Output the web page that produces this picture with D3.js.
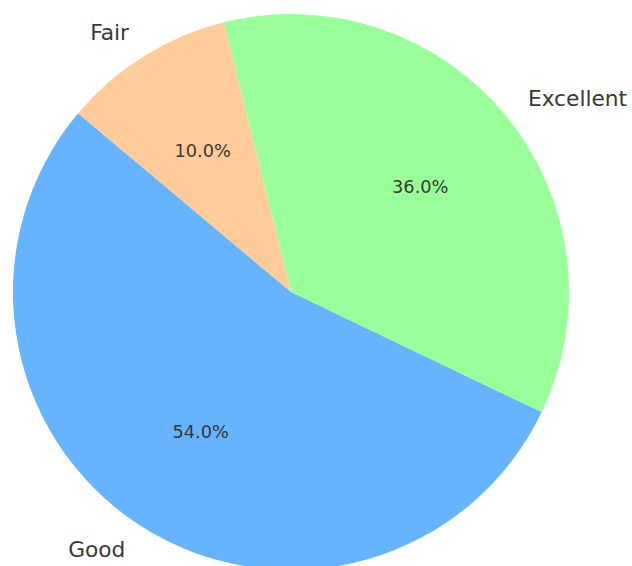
<!DOCTYPE html>
<html>
<head>
<meta charset="utf-8">
<script src="https://cdn.jsdelivr.net/npm/d3@7"></script>
<style>
  body { margin: 0; background: #fff; }
  text { font-family: "DejaVu Sans", sans-serif; fill: #383838; }
</style>
</head>
<body>
<div id="chart"></div>
<script>
// Data (in drawing order, counterclockwise like matplotlib)
var categories = ["Good", "Excellent", "Fair"];
var values = [54, 36, 10];
var colors = ["#66b3ff", "#99ff99", "#ffcc99"];

var w = 632, h = 566;
var cx = 291, cy = 292, r = 278;

var svg = d3.select("#chart").append("svg")
    .attr("width", w)
    .attr("height", h);

var g = svg.append("g").attr("transform", "translate(" + cx + "," + cy + ")");

// matplotlib startangle=140 (ccw from east) -> d3 angle -50deg, going counterclockwise
var start = -50 * Math.PI / 180;
var pie = d3.pie().sort(null)
    .startAngle(start)
    .endAngle(start - 2 * Math.PI);

var arcs = pie(values);

var arc = d3.arc().innerRadius(0).outerRadius(r);
var labelArc = d3.arc().innerRadius(r * 1.1).outerRadius(r * 1.1);
var pctArc = d3.arc().innerRadius(r * 0.6).outerRadius(r * 0.6);

g.selectAll("path.slice")
    .data(arcs)
    .enter().append("path")
    .attr("class", "slice")
    .attr("d", arc)
    .attr("fill", function(d, i) { return colors[i]; });

var total = d3.sum(values);

// category labels outside
g.selectAll("text.label")
    .data(arcs)
    .enter().append("text")
    .attr("class", "label")
    .attr("x", function(d) { return labelArc.centroid(d)[0]; })
    .attr("y", function(d) { return labelArc.centroid(d)[1]; })
    .attr("dy", "0.35em")
    .attr("text-anchor", function(d) { return labelArc.centroid(d)[0] > 0 ? "start" : "end"; })
    .style("font-size", "21.7px")
    .text(function(d, i) { return categories[i]; });

// percentage labels inside
g.selectAll("text.pct")
    .data(arcs)
    .enter().append("text")
    .attr("class", "pct")
    .attr("x", function(d) { return pctArc.centroid(d)[0]; })
    .attr("y", function(d) { return pctArc.centroid(d)[1]; })
    .attr("dy", "0.35em")
    .attr("text-anchor", "middle")
    .style("font-size", "17.8px")
    .text(function(d) { return (d.value / total * 100).toFixed(1) + "%"; });
</script>
</body>
</html>
